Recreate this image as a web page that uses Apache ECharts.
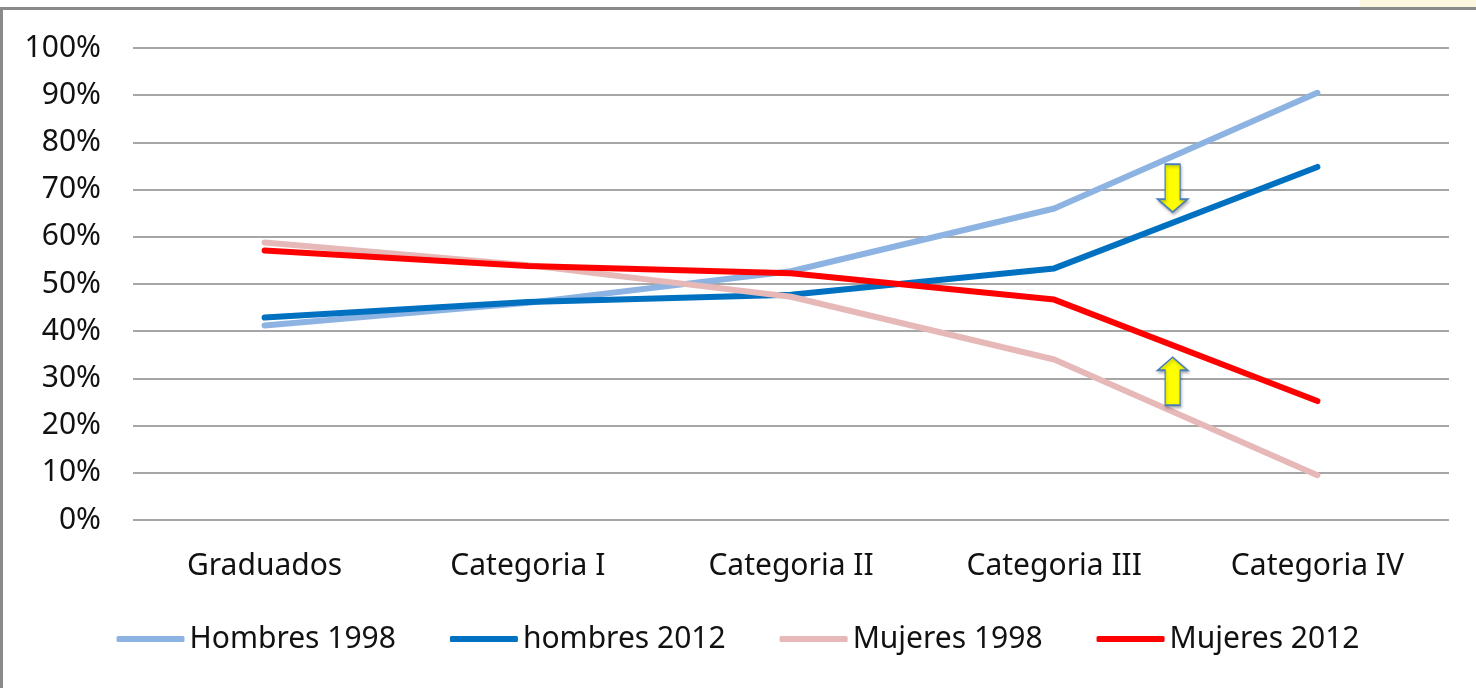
<!DOCTYPE html>
<html>
<head>
<meta charset="utf-8">
<script src="https://cdn.jsdelivr.net/npm/echarts@6/dist/echarts.min.js"></script>
<style>
html,body{margin:0;padding:0;background:#fff;}
#c{width:1476px;height:688px;}
</style>
</head>
<body>
<div id="c"></div>
<script>
const categories = ['Graduados', 'Categoria I', 'Categoria II', 'Categoria III', 'Categoria IV'];
const seriesNames = ['Hombres 1998', 'hombres 2012', 'Mujeres 1998', 'Mujeres 2012'];
const hombres1998 = [41.2, 46.0, 52.7, 66.0, 90.5];
const hombres2012 = [42.9, 46.2, 47.7, 53.3, 74.8];
const mujeres1998 = [58.8, 54.0, 47.3, 34.0, 9.5];
const mujeres2012 = [57.1, 53.8, 52.3, 46.7, 25.2];
const yTicks = [0, 10, 20, 30, 40, 50, 60, 70, 80, 90, 100];
// annotation arrows: [category position, value]
const arrowDown = [3.45, 70.3];
const arrowUp = [3.45, 29.4];

const colors = ['#8db3e2', '#0070c0', '#e6b9b8', '#ff0000'];
const FONT = 'Noto Sans';
const FS = 30;

const chart = echarts.init(document.getElementById('c'), null, {renderer: 'canvas'});

const lineSeries = [hombres1998, hombres2012, mujeres1998, mujeres2012].map((d, i) => ({
  name: seriesNames[i],
  type: 'line',
  data: d,
  symbol: 'none',
  smooth: false,
  lineStyle: {width: 6, color: colors[i], cap: 'round', join: 'round'},
  itemStyle: {color: colors[i]},
  z: 3 + i
}));

const downPath = 'path://M7.5,0 L22.5,0 L22.5,35 L30,35 L15,48 L0,35 L7.5,35 Z';
const upPath = 'path://M15,0 L30,13 L22.5,13 L22.5,48 L7.5,48 L7.5,13 L0,13 Z';

const arrowStyle = {
  color: '#ffff00',
  borderColor: '#4a7ebb',
  borderWidth: 1.5,
  shadowBlur: 3,
  shadowColor: 'rgba(0,0,0,0.25)',
  shadowOffsetX: 1,
  shadowOffsetY: 2,
  opacity: 1
};

chart.setOption({
  animation: false,
  backgroundColor: '#ffffff',
  textStyle: {fontFamily: FONT},
  grid: {left: 133, right: 27, top: 48, bottom: 168, containLabel: false},
  legend: {
    data: seriesNames,
    left: 'center',
    top: 619,
    itemWidth: 68,
    itemHeight: 6,
    itemGap: 54,
    icon: 'roundRect',
    textStyle: {fontFamily: FONT, fontSize: FS, color: '#111'}
  },
  xAxis: [{
    type: 'category',
    data: categories,
    boundaryGap: true,
    axisLine: {show: false},
    axisTick: {show: false},
    axisLabel: {fontFamily: FONT, fontSize: FS, color: '#111', margin: 31}
  }, {
    type: 'value',
    min: -0.5,
    max: 4.5,
    show: false
  }],
  yAxis: {
    type: 'value',
    min: 0,
    max: 100,
    interval: 10,
    axisLine: {show: false},
    axisTick: {show: false},
    axisLabel: {
      fontFamily: FONT, fontSize: FS, color: '#111', margin: 32,
      formatter: v => yTicks.indexOf(v) >= 0 ? v + '%' : ''
    },
    splitLine: {lineStyle: {color: '#a6a6a6', width: 2}}
  },
  graphic: [
    {type: 'rect', shape: {x: 1360, y: 0, width: 116, height: 8}, style: {fill: '#fdf6df'}, silent: true},
    {type: 'rect', shape: {x: 0, y: 7, width: 1476, height: 3}, style: {fill: '#8a8a8a'}, silent: true},
    {type: 'rect', shape: {x: 0, y: 7, width: 3, height: 681}, style: {fill: '#8a8a8a'}, silent: true}
  ],
  series: lineSeries.concat([
    {
      name: 'arrowDown', type: 'scatter', xAxisIndex: 1,
      data: [arrowDown], symbol: downPath, symbolSize: [30, 48],
      itemStyle: arrowStyle, z: 10, silent: true
    },
    {
      name: 'arrowUp', type: 'scatter', xAxisIndex: 1,
      data: [arrowUp], symbol: upPath, symbolSize: [30, 48],
      itemStyle: arrowStyle, z: 10, silent: true
    }
  ])
});
</script>
</body>
</html>
